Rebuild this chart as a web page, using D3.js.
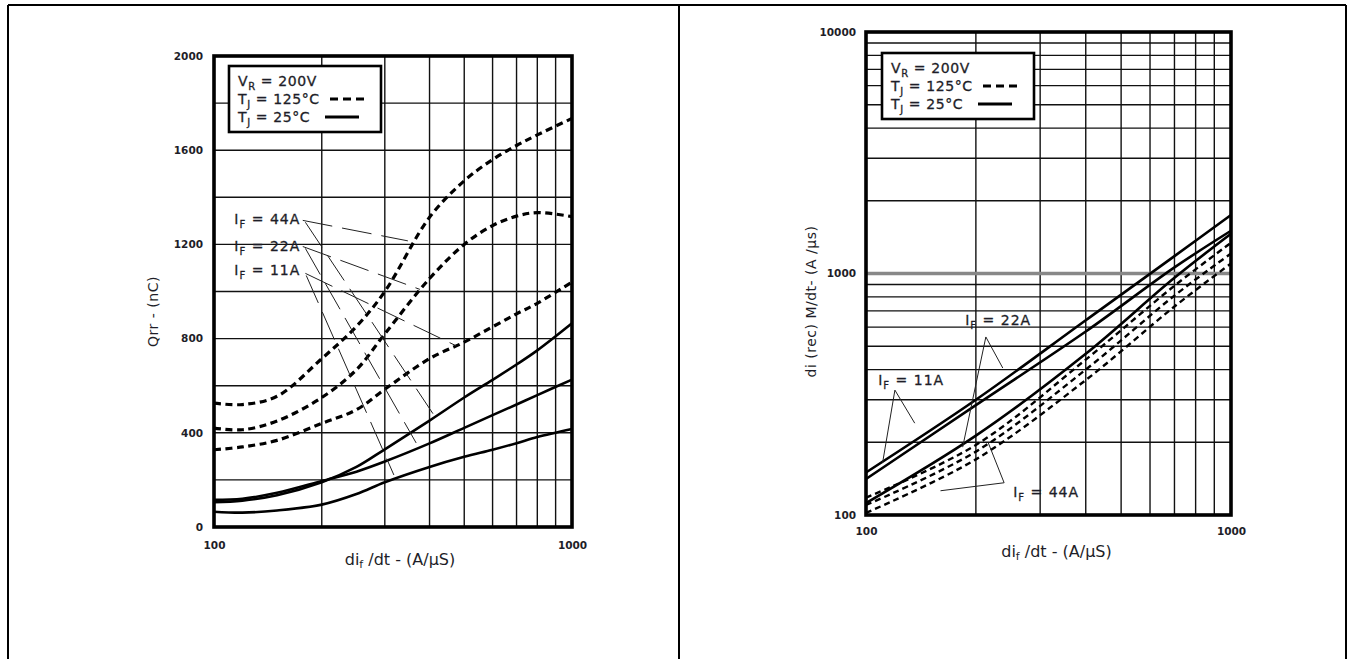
<!DOCTYPE html>
<html lang="en">
<head>
<meta charset="UTF-8">
<title>Qrr and di(rec)M/dt vs dif/dt</title>
<style>
  body { margin: 0; background: #fff; }
  svg text { font-family: "DejaVu Sans", Arial, sans-serif; fill: #1e1e28; }
</style>
</head>
<body>
<svg width="1354" height="659" id="svg"></svg>
<script src="https://d3js.org/d3.v7.min.js"></script>
<script>
// left chart: Qrr (nC) vs dif/dt (A/us)
const qrrX = [100, 120, 150, 200, 250, 300, 400, 500, 600, 700, 800, 1000]
const qrrHot44 = [526, 520, 555, 715, 852, 1000, 1315, 1470, 1560, 1620, 1665, 1735]
const qrrHot22 = [420, 413, 450, 550, 668, 820, 1055, 1200, 1280, 1320, 1335, 1318]
const qrrHot11 = [328, 340, 368, 440, 498, 585, 715, 785, 850, 905, 950, 1040]
const qrrCold44 = [105, 112, 135, 190, 255, 330, 452, 550, 625, 690, 750, 865]
const qrrCold22 = [115, 120, 145, 195, 235, 278, 355, 421, 475, 520, 560, 626]
const qrrCold11 = [65, 61, 70, 95, 140, 190, 255, 298, 328, 356, 382, 416]
const qrrYTicks = [0, 400, 800, 1200, 1600, 2000]
const qrrYGrid = [200, 400, 600, 800, 1000, 1200, 1400, 1600, 1800]
const qrrLabels = ["44A", "22A", "11A"]
const qrrLabelAt = [[114, 1285], [114, 1174], [114, 1068]]
// leader lines, label end -> curve (data units)
const qrrLeaders = [
  [[177, 1302], [348, 1215]],
  [[177, 1191], [376, 1009]],
  [[180, 1077], [474, 770]],
  [[180, 1294], [409, 481]],
  [[180, 1183], [367, 357]],
  [[181, 1068], [318, 221]]
]

// right chart: di(rec)M/dt (A/us) vs dif/dt (A/us)
const recX = [100, 200, 400, 700, 1000]
const recCold11 = [150, 300, 640, 1180, 1746]
const recCold22 = [141, 285, 575, 1060, 1503]
const recCold44 = [112, 213, 465, 960, 1460]
const recHot11 = [118, 195, 440, 890, 1340]
const recHot22 = [110, 183, 400, 810, 1210]
const recHot44 = [102, 170, 362, 730, 1100]
const recYTicks = [100, 1000, 10000]
const recYGrid = [200, 300, 400, 500, 600, 700, 800, 900, 1000, 2000, 3000, 4000, 5000, 6000, 7000, 8000, 9000]
const recLabels = ["11A", "22A", "44A"]
const recLabelAt = [[108, 345], [187, 612], [253, 119]]
const recLeaders = [
  [[111, 164], [120, 329], [136, 240]],
  [[184, 191], [213, 546], [237, 406]],
  [[216, 200], [239, 136], [160, 126]]
]

const xTicks = [100, 1000]
const xGrid = [200, 300, 400, 500, 600, 700, 800, 900]

const svg = d3.select("svg#svg")
svg.append("rect").attr("width", 1354).attr("height", 659).attr("fill", "#fff")

// table borders around the two pictures
const border = svg.append("g").attr("stroke", "#000").attr("stroke-width", 2)
border.append("line").attr("x1", 8).attr("x2", 1346).attr("y1", 5).attr("y2", 5)
border.append("line").attr("x1", 8).attr("x2", 8).attr("y1", 5).attr("y2", 659)
border.append("line").attr("x1", 679).attr("x2", 679).attr("y1", 5).attr("y2", 659)
border.append("line").attr("x1", 1346).attr("x2", 1346).attr("y1", 5).attr("y2", 659)

// text with a subscript: main, sub, rest
function subLabel(sel, main, sub, rest) {
  sel.append("tspan").text(main)
  sel.append("tspan").text(sub).attr("font-size", 10).attr("dy", 4)
  sel.append("tspan").text(rest).attr("dy", -4)
}

function drawChart(o) {
  const g = svg.append("g")
  const x = o.x, y = o.y
  const [x0, x1] = x.range()
  const [y0, y1] = y.range()

  // grid
  const grid = g.append("g")
  grid.selectAll("line.v").data(xGrid).join("line")
    .attr("x1", d => x(d)).attr("x2", d => x(d))
    .attr("y1", y0).attr("y2", y1)
    .attr("stroke", "#111").attr("stroke-width", 1.4)
  grid.selectAll("line.h").data(o.yGrid).join("line")
    .attr("x1", x0).attr("x2", x1)
    .attr("y1", d => y(d)).attr("y2", d => y(d))
    .attr("stroke", d => d === o.greyLine ? "#888" : "#111")
    .attr("stroke-width", d => d === o.greyLine ? 3.5 : 1.4)

  // curves
  const line = d3.line().x(d => x(d[0])).y(d => y(d[1])).curve(d3.curveCatmullRom.alpha(0.5))
  o.hot.forEach(s => {
    g.append("path").datum(o.xs.map((v, i) => [v, s[i]]))
      .attr("d", line).attr("fill", "none").attr("stroke", "#000")
      .attr("stroke-width", o.dashWidth).attr("stroke-dasharray", o.dash)
  })
  o.cold.forEach(s => {
    g.append("path").datum(o.xs.map((v, i) => [v, s[i]]))
      .attr("d", line).attr("fill", "none").attr("stroke", "#000")
      .attr("stroke-width", 2.6)
  })

  // leader lines
  o.leaders.forEach(l => {
    g.append("path").datum(l)
      .attr("d", d3.line().x(d => x(d[0])).y(d => y(d[1])))
      .attr("fill", "none").attr("stroke", "#222").attr("stroke-width", 1)
      .attr("stroke-dasharray", o.leaderDash)
  })
  o.labels.forEach((t, i) => {
    const lab = g.append("text")
      .attr("x", x(o.labelAt[i][0])).attr("y", y(o.labelAt[i][1]))
      .attr("font-size", 14).attr("letter-spacing", 1)
      .attr("stroke", "#1e1e28").attr("stroke-width", 0.3)
    subLabel(lab, "I", "F", " = " + t)
  })

  // frame
  g.append("rect").attr("x", x0).attr("y", y1).attr("width", x1 - x0).attr("height", y0 - y1)
    .attr("fill", "none").attr("stroke", "#000").attr("stroke-width", 3.6)

  // axes
  const ya = g.append("g").attr("transform", `translate(${x0},0)`)
    .call(d3.axisLeft(y).tickValues(o.yTicks).tickFormat(d3.format("d")).tickSize(0).tickPadding(o.yPad))
  const xa = g.append("g").attr("transform", `translate(0,${y0})`)
    .call(d3.axisBottom(x).tickValues(xTicks).tickFormat(d3.format("d")).tickSize(0).tickPadding(o.xPad))
  ;[ya, xa].forEach(a => {
    a.select(".domain").remove()
    a.selectAll("text").attr("font-family", "DejaVu Sans").attr("font-weight", "bold")
      .attr("font-size", 10.5).attr("fill", "#2a2a34")
  })

  // legend box
  const lg = g.append("g").attr("transform", `translate(${o.legend[0]},${o.legend[1]})`)
  lg.append("rect").attr("width", 152).attr("height", 66).attr("fill", "#fff")
    .attr("stroke", "#000").attr("stroke-width", 2.6)
  const rows = [["V", "R", " = 200V"], ["T", "J", " = 125°C"], ["T", "J", " = 25°C"]]
  rows.forEach((r, i) => {
    const t = lg.append("text").attr("x", 9).attr("y", 20 + i * 18)
      .attr("font-size", 14).attr("letter-spacing", 0.6)
      .attr("stroke", "#1e1e28").attr("stroke-width", 0.3)
    subLabel(t, r[0], r[1], r[2])
  })
  lg.append("line").attr("x1", 101).attr("x2", 136).attr("y1", 33).attr("y2", 33)
    .attr("stroke", "#000").attr("stroke-width", 3).attr("stroke-dasharray", "8,5")
  lg.append("line").attr("x1", 96).attr("x2", 130).attr("y1", 51).attr("y2", 51)
    .attr("stroke", "#000").attr("stroke-width", 3)

  // axis titles
  const xt = g.append("text").attr("x", (x0 + x1) / 2 + o.xTitleShift).attr("y", o.xTitleY)
    .attr("text-anchor", "middle").attr("font-size", 16)
  xt.append("tspan").text("di")
  xt.append("tspan").text("f").attr("font-size", 11).attr("dy", 3)
  xt.append("tspan").text(" /dt - (A/µS)").attr("dy", -3)
  g.append("text")
    .attr("transform", `translate(${o.yTitleX},${(y0 + y1) / 2 + o.yTitleShift}) rotate(-90)`)
    .attr("text-anchor", "middle").attr("font-size", 14).attr("letter-spacing", 0.5)
    .text(o.yTitle)
}

drawChart({
  x: d3.scaleLog().domain([100, 1000]).range([214, 572]),
  y: d3.scaleLinear().domain([0, 2000]).range([527, 56]),
  xs: qrrX,
  hot: [qrrHot44, qrrHot22, qrrHot11],
  cold: [qrrCold44, qrrCold22, qrrCold11],
  dash: "7,4.5", dashWidth: 3.2,
  yGrid: qrrYGrid, yTicks: qrrYTicks, greyLine: null,
  leaders: qrrLeaders, leaderDash: "30,10",
  labels: qrrLabels, labelAt: qrrLabelAt,
  legend: [229, 66],
  yPad: 11, xPad: 15,
  xTitleY: 565, xTitleShift: 7,
  yTitleX: 158, yTitleShift: 20,
  yTitle: "Qrr - (nC)"
})

drawChart({
  x: d3.scaleLog().domain([100, 1000]).range([866, 1231]),
  y: d3.scaleLog().domain([100, 10000]).range([515, 32]),
  xs: recX,
  hot: [recHot11, recHot22, recHot44],
  cold: [recCold11, recCold22, recCold44],
  dash: "6,4", dashWidth: 2.4,
  yGrid: recYGrid, yTicks: recYTicks, greyLine: 1000,
  leaders: recLeaders, leaderDash: null,
  labels: recLabels, labelAt: recLabelAt,
  legend: [882, 53],
  yPad: 10, xPad: 13,
  xTitleY: 557, xTitleShift: 8,
  yTitleX: 816, yTitleShift: 28,
  yTitle: "di (rec) M/dt- (A /µs)"
})
</script>
</body>
</html>
